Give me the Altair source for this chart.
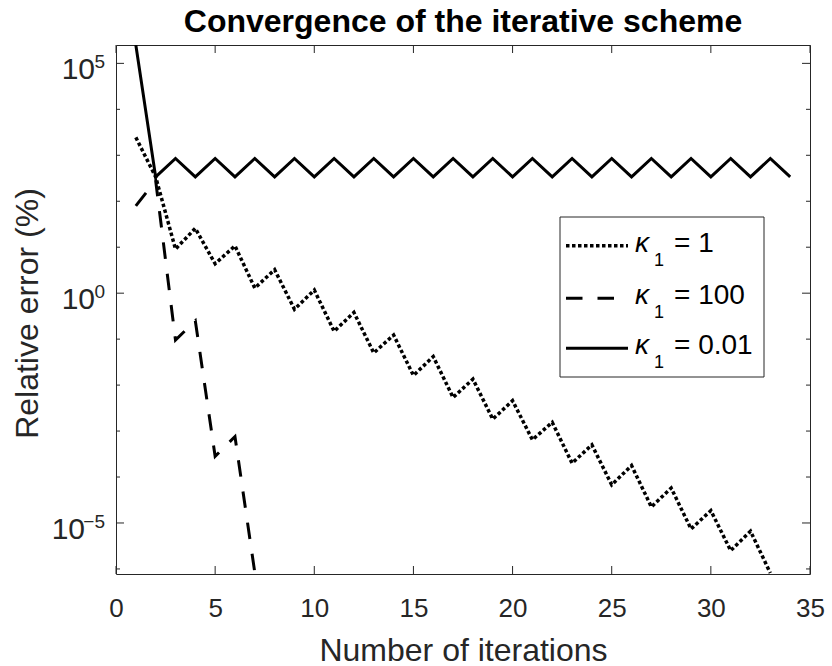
import altair as alt
import pandas as pd

# ---------------- data ----------------
iter_k1 = list(range(1, 34))
err_k1 = [2.45e3, 3.39e2, 9.1, 25.7, 4.37, 10.7, 1.29, 3.24, 0.447, 1.17,
          0.148, 0.380, 0.0501, 0.123, 0.0162, 0.0417, 5.37e-3, 1.35e-2,
          1.82e-3, 4.57e-3, 6.46e-4, 1.55e-3, 2.0e-4, 5.01e-4, 6.76e-5,
          1.78e-4, 2.24e-5, 5.75e-5, 7.41e-6, 1.86e-5, 2.51e-6, 6.61e-6,
          8.13e-7]

iter_k100 = list(range(1, 8))
err_k100 = [79.4, 282, 0.0955, 0.251, 2.82e-4, 7.59e-4, 8.32e-7]

iter_k001 = list(range(1, 35))
err_k001 = [2.51e5, 339, 851, 339, 851, 339, 851, 339, 851, 339, 851, 339,
            851, 339, 851, 339, 851, 339, 851, 339, 851, 339, 851, 339, 851,
            339, 851, 339, 851, 339, 851, 339, 851, 339]

x_ticks = [0, 5, 10, 15, 20, 25, 30, 35]
y_major = [1e-5, 1, 1e5]
y_major_exp = ["\u22125", "0", "5"]
y_minor = [1e-6, 1e-4, 1e-3, 1e-2, 1e-1, 1e1, 1e2, 1e3, 1e4]
y_domain = [7.76e-7, 2.51e5]

title_text = "Convergence of the iterative scheme"
legend_labels = ["= 1", "= 100", "= 0.01"]

FONT = "Liberation Sans"
AX = "#262626"
W, H = 694, 529

xs = alt.Scale(domain=[0, 35], nice=False, zero=False)
ys = alt.Scale(type="log", domain=y_domain, nice=False, zero=False)

x_axis = alt.Axis(values=x_ticks, format="d", domain=False, ticks=False, grid=False,
                  labelFont=FONT, labelFontSize=26, labelColor=AX, labelPadding=21,
                  labelFlush=False,
                  title="Number of iterations", titleFont=FONT, titleFontSize=32,
                  titleFontWeight="normal", titleColor=AX, titleX=W / 2, titleY=86,
                  titleBaseline="alphabetic", titleAlign="center")
y_axis = alt.Axis(labels=False, domain=False, ticks=False, grid=False,
                  title="Relative error (%)", titleFont=FONT, titleFontSize=32,
                  titleFontWeight="normal", titleColor=AX, titleAngle=270,
                  titleX=-79, titleY=268, titleBaseline="alphabetic", titleAlign="center")


def X(field):
    return alt.X(field, scale=xs, axis=x_axis)


def Y(field):
    return alt.Y(field, scale=ys, axis=y_axis)


df1 = pd.DataFrame({"it": iter_k1, "err": err_k1})
df100 = pd.DataFrame({"it": iter_k100, "err": err_k100})
df001 = pd.DataFrame({"it": iter_k001, "err": err_k001})

DOT = [3.5, 2.5]
DASH = [16.5, 15]

line_k1 = alt.Chart(df1).mark_line(color="black", strokeWidth=3.5, strokeDash=DOT,
                                   strokeCap="butt", clip=True).encode(
    x=X("it:Q"), y=Y("err:Q"))
line_k100 = alt.Chart(df100).mark_line(color="black", strokeWidth=3, strokeDash=DASH,
                                       strokeCap="butt", clip=True).encode(
    x=X("it:Q"), y=Y("err:Q"))
line_k001 = alt.Chart(df001).mark_line(color="black", strokeWidth=3, clip=True).encode(
    x=X("it:Q"), y=Y("err:Q"))

# ---------------- inward ticks (MATLAB box style) ----------------
xt = pd.DataFrame({"it": x_ticks})
xtick_bottom = alt.Chart(xt).mark_rule(color=AX, strokeWidth=1).encode(
    x=X("it:Q"), y=alt.value(H), y2=alt.value(H - 8))
xtick_top = alt.Chart(xt).mark_rule(color=AX, strokeWidth=1).encode(
    x=X("it:Q"), y=alt.value(0), y2=alt.value(8))

ymaj = pd.DataFrame({"err": y_major, "exp": y_major_exp})
ymin = pd.DataFrame({"err": y_minor})


def yticks(df, length):
    left = alt.Chart(df).mark_rule(color=AX, strokeWidth=1).encode(
        y=Y("err:Q"), x=alt.value(0), x2=alt.value(length))
    right = alt.Chart(df).mark_rule(color=AX, strokeWidth=1).encode(
        y=Y("err:Q"), x=alt.value(W), x2=alt.value(W - length))
    return [left, right]


# ---------------- y tick labels 10^k ----------------
ylab_base1 = alt.Chart(ymaj).transform_filter("length(datum.exp) == 1").mark_text(
    align="right", baseline="alphabetic", font=FONT, fontSize=30, color=AX, dy=16
).encode(x=alt.value(-21), y=Y("err:Q"), text=alt.value("10"))
ylab_base2 = alt.Chart(ymaj).transform_filter("length(datum.exp) == 2").mark_text(
    align="right", baseline="alphabetic", font=FONT, fontSize=30, color=AX, dy=16
).encode(x=alt.value(-31), y=Y("err:Q"), text=alt.value("10"))
ylab_exp = alt.Chart(ymaj).mark_text(align="right", baseline="alphabetic", font=FONT,
                                     fontSize=19, color=AX, dy=5).encode(
    x=alt.value(-11), y=Y("err:Q"), text="exp:N")

# ---------------- title ----------------
one = alt.Data(values=[{"a": 1}])
title_mark = alt.Chart(one).mark_text(
    align="center", baseline="alphabetic", font=FONT, fontSize=32, fontWeight="bold",
    color="black").encode(x=alt.value(W / 2), y=alt.value(-13), text=alt.value(title_text))

# ---------------- legend ----------------
leg_box = alt.Chart(one).mark_rect(fill="white", stroke=AX, strokeWidth=1).encode(
    x=alt.value(444), x2=alt.value(648), y=alt.value(172), y2=alt.value(332))
row_y = [200.7, 253.3, 303.3]
dashes = [DOT, DASH, None]
widths = [3.5, 3, 3]
leg_layers = [leg_box]
for ry, dsh, sw, lab in zip(row_y, dashes, widths, legend_labels):
    kw = dict(color="black", strokeWidth=sw, strokeCap="butt")
    if dsh is not None:
        kw["strokeDash"] = dsh
    leg_layers.append(alt.Chart(one).mark_rule(**kw).encode(
        x=alt.value(450), x2=alt.value(512), y=alt.value(ry)))
    leg_layers.append(alt.Chart(one).mark_text(
        align="left", baseline="alphabetic", font=FONT, fontSize=28, color="black",
        fontStyle="italic").encode(
        x=alt.value(519), y=alt.value(ry + 6), text=alt.value("\u03ba")))
    leg_layers.append(alt.Chart(one).mark_text(
        align="left", baseline="alphabetic", font=FONT, fontSize=18, color="black").encode(
        x=alt.value(538), y=alt.value(ry + 20), text=alt.value("1")))
    leg_layers.append(alt.Chart(one).mark_text(
        align="left", baseline="alphabetic", font=FONT, fontSize=28, color="black").encode(
        x=alt.value(558), y=alt.value(ry + 6), text=alt.value(lab)))

chart = alt.layer(
    line_k1, line_k100, line_k001,
    xtick_bottom, xtick_top,
    *yticks(ymaj, 8), *yticks(ymin, 4),
    ylab_base1, ylab_base2, ylab_exp,
    title_mark,
    *leg_layers,
).properties(
    width=W, height=H,
    autosize=alt.AutoSizeParams(type="none"),
    padding={"left": 116, "top": 45, "right": 22, "bottom": 92},
    background="white",
).configure_view(stroke=AX, strokeWidth=1)

chart.save("out.html", embed_options={"renderer": "svg", "actions": False})
